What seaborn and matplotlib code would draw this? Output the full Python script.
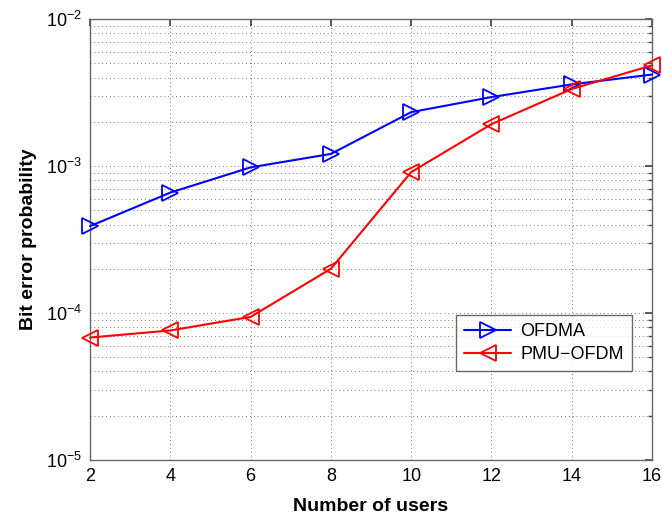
import matplotlib
matplotlib.use("Agg")
import matplotlib.pyplot as plt
from matplotlib.ticker import LogLocator, NullFormatter
import seaborn as sns
import pandas as pd

users = [2, 4, 6, 8, 10, 12, 14, 16]
ofdma_ber = [3.9e-4, 6.6e-4, 9.8e-4, 1.21e-3, 2.33e-3, 2.95e-3, 3.6e-3, 4.2e-3]
pmu_ofdm_ber = [6.8e-5, 7.6e-5, 9.4e-5, 2.0e-4, 9.1e-4, 1.93e-3, 3.35e-3, 4.85e-3]

sns.set_theme(style="white")
plt.rcParams["font.family"] = ["Liberation Sans", "DejaVu Sans"]
plt.rcParams["mathtext.fontset"] = "custom"
plt.rcParams["mathtext.rm"] = "Liberation Sans"
plt.rcParams["text.color"] = "black"
plt.rcParams["axes.labelcolor"] = "black"
plt.rcParams["xtick.color"] = "black"
plt.rcParams["ytick.color"] = "black"

fig = plt.figure(figsize=(6.62, 5.19), dpi=100)
ax = fig.add_axes([0.136, 0.114, 0.849, 0.849])

df_a = pd.DataFrame({"users": users, "ber": ofdma_ber})
df_b = pd.DataFrame({"users": users, "ber": pmu_ofdm_ber})

sns.lineplot(data=df_a, x="users", y="ber", ax=ax, color="#0000ff", lw=1.5,
             marker=">", markersize=12, markerfacecolor="none",
             markeredgecolor="#0000ff", markeredgewidth=1.3, label="OFDMA",
             clip_on=False, zorder=5)
sns.lineplot(data=df_b, x="users", y="ber", ax=ax, color="#ff0000", lw=1.5,
             marker="<", markersize=12, markerfacecolor="none",
             markeredgecolor="#ff0000", markeredgewidth=1.3, label="PMU\u2212OFDM",
             clip_on=False, zorder=5)

ax.set_yscale("log")
ax.set_xlim(2, 16)
ax.set_ylim(1e-5, 1e-2)
ax.set_xticks(users)
ax.yaxis.set_major_locator(LogLocator(base=10, numticks=10))
ax.yaxis.set_minor_locator(LogLocator(base=10, subs=range(2, 10), numticks=20))
ax.yaxis.set_minor_formatter(NullFormatter())

ax.grid(True, which="major", axis="both", linestyle=(0, (1, 3)), color="#777777", lw=0.7)
ax.grid(True, which="minor", axis="y", linestyle=(0, (1, 3)), color="#777777", lw=0.7)

ax.tick_params(which="both", direction="in", top=True, right=True, labelsize=13,
               color="#444444", labelcolor="black", pad=6)
ax.tick_params(which="major", length=5)
ax.tick_params(which="minor", length=3)
for s in ax.spines.values():
    s.set_color("#666666")
    s.set_linewidth(1.0)

ax.set_xlabel("Number of users", fontsize=14, fontweight="bold", labelpad=9)
ax.set_ylabel("Bit error probability", fontsize=14, fontweight="bold", labelpad=6)

leg = ax.legend(loc="lower right", bbox_to_anchor=(0.98, 0.18), fontsize=13,
                frameon=True, fancybox=False, edgecolor="#444444",
                handlelength=2.6, borderpad=0.45, labelspacing=0.35,
                handletextpad=0.5)
leg.get_frame().set_linewidth(1.0)
leg.set_zorder(10)

fig.savefig("out.png", dpi=100)
